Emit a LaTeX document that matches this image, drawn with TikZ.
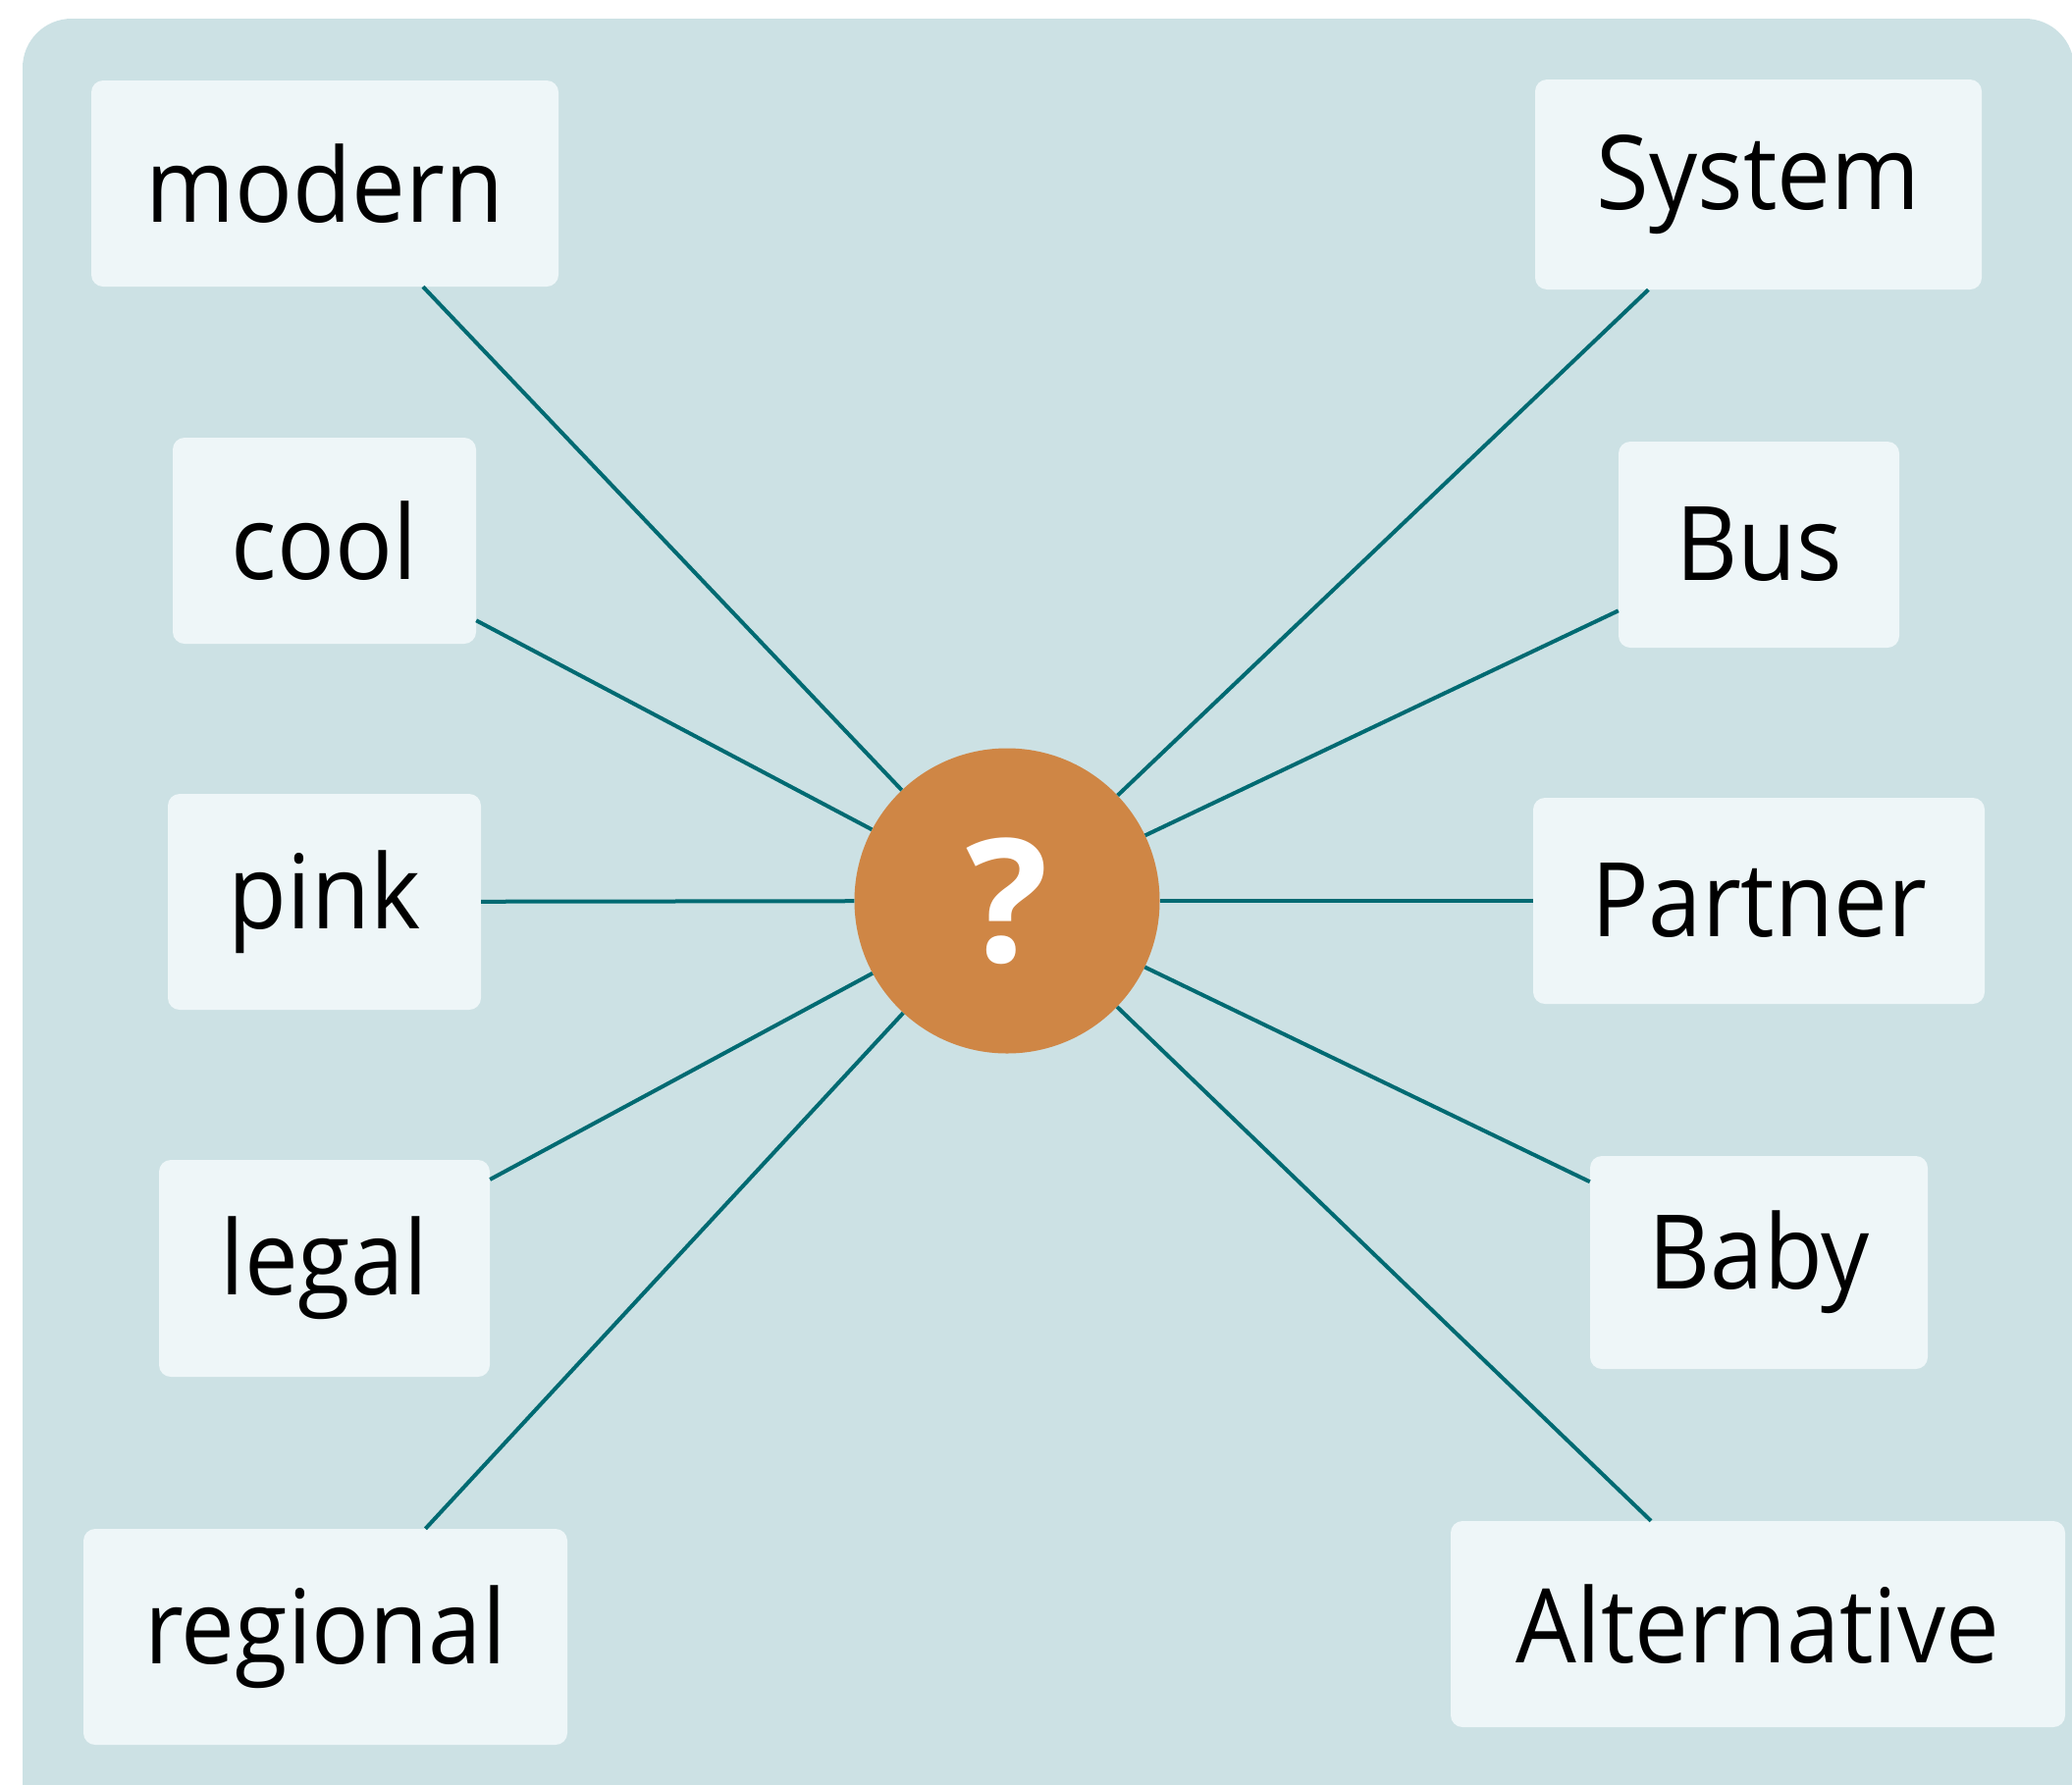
\documentclass[tikz,border=0pt]{standalone}
\usepackage{fontspec}
\setmainfont{Open Sans}
\newfontfamily\wordfont{Open Sans}[FakeStretch=0.93]
\definecolor{bgc}{RGB}{204,225,228}
\definecolor{boxc}{RGB}{238,246,248}
\definecolor{circc}{RGB}{207,134,69}
\definecolor{linec}{RGB}{0,106,114}
\begin{document}
\begin{tikzpicture}[x=1pt,y=-1pt,
  word/.style={rectangle,rounded corners=12pt,fill=boxc,inner sep=0pt,
    font=\wordfont\fontsize{105}{120}\selectfont,text=black},
  hub/.style={circle,fill=circc,minimum size=311pt,inner sep=0pt,
    font=\fontsize{175}{200}\selectfont\bfseries,text=white},
  link/.style={draw=linec,line width=4pt}]
\useasboundingbox (0,0) rectangle (2111,1818);
\clip (0,0) rectangle (2111,1818);
\fill[bgc,rounded corners=50pt] (23,19) rectangle (2113,1900);
\node[hub] (q) at (1026,918) {?};
\node[word,minimum width=476pt,minimum height=210pt] (modern) at (331,187) {modern};
\node[word,minimum width=309pt,minimum height=210pt] (cool) at (330.5,551) {cool};
\node[word,minimum width=319pt,minimum height=220pt] (pink) at (330.5,919) {pink};
\node[word,minimum width=337pt,minimum height=221pt] (legal) at (330.5,1292.5) {legal};
\node[word,minimum width=493pt,minimum height=220pt] (regional) at (331.5,1668) {regional};
\node[word,minimum width=455pt,minimum height=214pt] (system) at (1791.5,188) {System};
\node[word,minimum width=286pt,minimum height=210pt] (bus) at (1792,555) {Bus};
\node[word,minimum width=460pt,minimum height=210pt] (partner) at (1792,918) {Partner};
\node[word,minimum width=344pt,minimum height=217pt] (baby) at (1792,1286.5) {Baby};
\node[word,minimum width=626pt,minimum height=210pt] (alt) at (1791,1655) {Alternative};
\foreach \n in {modern,cool,pink,legal,regional,system,bus,partner,baby,alt}
  \draw[link] (\n) -- (q);
\end{tikzpicture}
\end{document}
